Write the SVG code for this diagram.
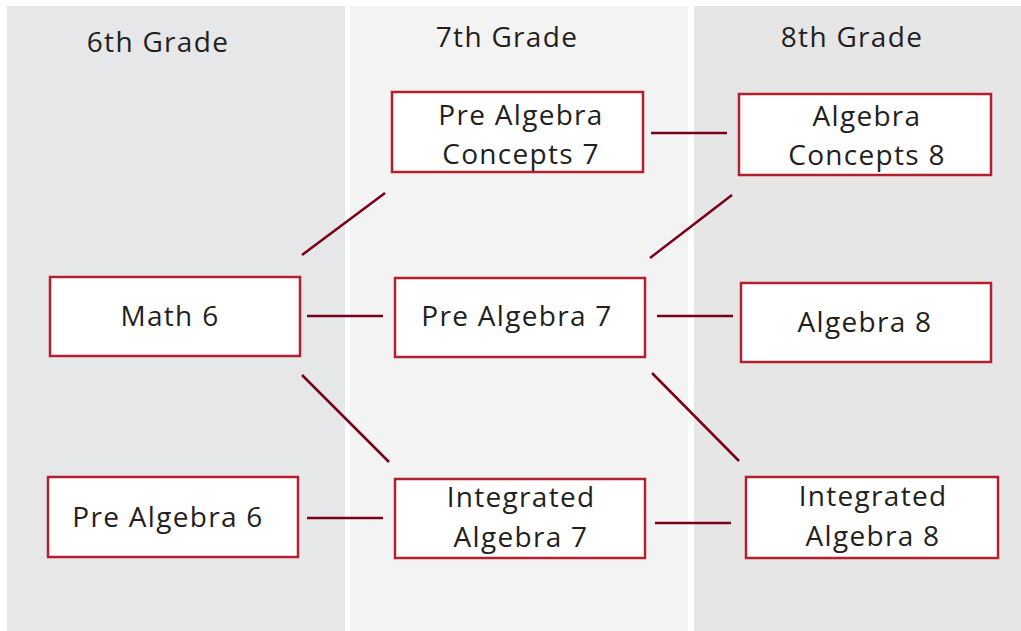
<svg xmlns="http://www.w3.org/2000/svg" width="1021" height="631" viewBox="0 0 1021 631">
<style>
.col{stroke:none}
.box{fill:#ffffff;stroke:#b5202e;stroke-width:2.5}
.t{font-family:"Open Sans","Liberation Sans",sans-serif;font-size:28px;letter-spacing:1.3px;fill:#231f20;text-anchor:middle}
.c line{stroke:#7a0019;stroke-width:2.5}
</style>
<rect width="1021" height="631" fill="#ffffff"/>
<g id="columns">
<rect class="col" x="7" y="6" width="338" height="625" fill="#e6e7e8"/>
<rect class="col" x="350" y="6" width="338" height="625" fill="#f3f3f3"/>
<rect class="col" x="694" y="6" width="327" height="625" fill="#e6e6e6"/>
<text class="t" x="158" y="52">6th Grade</text>
<text class="t" x="507" y="47">7th Grade</text>
<text class="t" x="852" y="47">8th Grade</text>
</g>
<g class="c" id="connectors">
<line x1="302" y1="255" x2="385" y2="193"/>
<line x1="307" y1="316" x2="383" y2="316"/>
<line x1="302" y1="375" x2="389" y2="462"/>
<line x1="307" y1="518" x2="383" y2="518"/>
<line x1="651" y1="133" x2="727" y2="133"/>
<line x1="650" y1="258" x2="732" y2="195"/>
<line x1="657" y1="316" x2="733" y2="316"/>
<line x1="652" y1="373" x2="739" y2="461"/>
<line x1="655" y1="523" x2="731" y2="523"/>
</g>
<g id="math6"><rect class="box" x="50" y="277" width="250" height="79"/><text class="t" x="170" y="326">Math 6</text></g>
<g id="prealg6"><rect class="box" x="48" y="477" width="250" height="80"/><text class="t" x="168" y="527">Pre Algebra 6</text></g>
<g id="pac7"><rect class="box" x="392" y="92" width="251" height="80"/><text class="t" x="521" y="125">Pre Algebra</text><text class="t" x="521" y="164">Concepts 7</text></g>
<g id="prealg7"><rect class="box" x="395" y="278" width="250" height="79"/><text class="t" x="517" y="326">Pre Algebra 7</text></g>
<g id="intalg7"><rect class="box" x="395" y="479" width="250" height="79"/><text class="t" x="521" y="507">Integrated</text><text class="t" x="521" y="547">Algebra 7</text></g>
<g id="ac8"><rect class="box" x="739" y="94" width="252" height="81"/><text class="t" x="867" y="126">Algebra</text><text class="t" x="867" y="165">Concepts 8</text></g>
<g id="alg8"><rect class="box" x="741" y="283" width="250" height="79"/><text class="t" x="865" y="332">Algebra 8</text></g>
<g id="intalg8"><rect class="box" x="746" y="477" width="252" height="81"/><text class="t" x="873" y="506">Integrated</text><text class="t" x="873" y="546">Algebra 8</text></g>
</svg>
